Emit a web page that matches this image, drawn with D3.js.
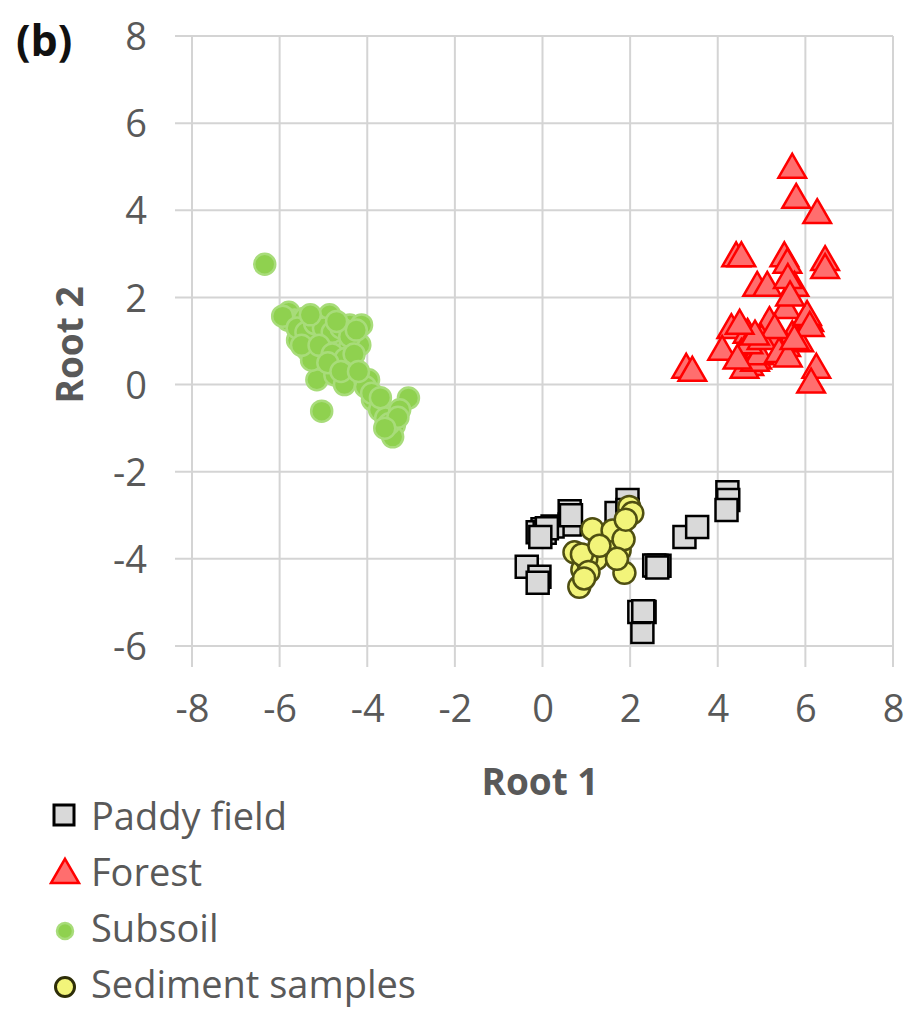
<!DOCTYPE html>
<html>
<head>
<meta charset="utf-8">
<script src="https://cdn.jsdelivr.net/npm/d3@7"></script>
<style>
  html, body { margin: 0; padding: 0; background: #fff; }
  svg { display: block; }
  text { font-family: "Open Sans", "Noto Sans", sans-serif; }
</style>
</head>
<body>
<svg id="chart" width="920" height="1013"></svg>
<script>
// ---- data ----
const xTicks = [-8, -6, -4, -2, 0, 2, 4, 6, 8];
const yTicks = [-6, -4, -2, 0, 2, 4, 6, 8];

const paddyX = [0.62, 0.62, 0.00, -0.11, 0.23, -0.36, -0.07, -0.11, 1.69, 1.94, 1.94, 2.33, 2.28, 2.21, 2.60, 2.67, 3.24, 3.53, 4.22, 4.24, 4.20, 0.05, 0.10, -0.05, 2.55, 2.62, 2.30, 0.65];
const paddyY = [-2.91, -3.21, -3.32, -3.39, -3.26, -4.18, -4.41, -4.55, -2.95, -2.65, -2.88, -5.22, -5.68, -5.22, -4.16, -4.16, -3.50, -3.27, -2.47, -2.65, -2.88, -3.40, -3.30, -3.50, -4.15, -4.20, -5.20, -3.00];

const forestX = [5.70, 5.79, 6.27, 4.42, 4.54, 5.52, 5.59, 6.45, 6.45, 4.90, 5.13, 5.75, 5.56, 6.09, 5.18, 4.31, 4.68, 5.70, 4.10, 4.54, 5.56, 5.86, 4.72, 4.61, 3.28, 3.42, 6.25, 6.13, 5.25, 6.04, 4.90, 4.85, 4.95, 4.70, 5.00, 5.40, 5.60, 5.30, 4.85, 5.60, 5.65, 6.10, 4.50, 4.45, 5.75];
const forestY = [4.93, 4.24, 3.89, 2.90, 2.90, 2.90, 2.75, 2.81, 2.63, 2.22, 2.22, 2.22, 1.71, 1.41, 1.41, 1.25, 1.14, 1.09, 0.75, 0.68, 0.84, 0.95, 0.40, 0.34, 0.34, 0.27, 0.34, 0.00, 1.02, 1.55, 0.55, 0.50, 0.65, 0.90, 1.00, 0.70, 0.60, 1.25, 1.10, 2.40, 2.00, 1.30, 1.35, 0.55, 1.00];

const subsoilX = [-6.34, -5.79, -5.66, -5.81, -5.43, -4.93, -4.86, -4.40, -4.13, -5.59, -5.20, -4.63, -4.29, -5.36, -4.97, -4.63, -4.17, -5.15, -4.74, -4.52, -3.97, -4.04, -5.04, -3.88, -3.72, -3.58, -3.38, -3.42, -3.06, -3.26, -5.93, -4.86, -5.27, -4.40, -5.60, -5.40, -5.20, -5.00, -4.80, -4.60, -4.40, -5.50, -5.10, -4.80, -4.50, -4.30, -5.30, -4.70, -4.25, -4.90, -4.60, -4.20, -3.90, -3.70, -3.50, -3.30, -3.60];
const subsoilY = [2.76, 1.66, 1.48, 1.48, 1.52, 1.52, 1.60, 1.37, 1.37, 1.02, 1.18, 1.14, 1.07, 0.79, 0.91, 0.75, 0.91, 0.11, 0.22, 0.00, 0.11, -0.05, -0.61, -0.35, -0.58, -0.77, -0.93, -1.20, -0.31, -0.58, 1.57, 0.98, 0.56, 0.45, 1.30, 1.20, 1.40, 1.30, 1.20, 1.30, 1.10, 0.90, 0.90, 0.70, 0.60, 0.70, 1.60, 1.45, 1.25, 0.50, 0.30, 0.30, -0.20, -0.30, -0.90, -0.75, -1.00];

const sedimentX = [1.14, 0.73, 1.00, 0.91, 0.84, 1.23, 1.69, 1.76, 1.87, 1.98, 2.05, 1.57, 1.00, 0.90, 1.05, 1.60, 1.85, 1.90, 1.70, 0.95, 1.30];
const sedimentY = [-3.32, -3.85, -4.18, -4.25, -4.64, -4.00, -3.50, -3.80, -4.32, -2.81, -2.95, -3.63, -4.00, -3.90, -4.30, -3.35, -3.55, -3.10, -4.00, -4.45, -3.70];

const seriesNames = ["Paddy field", "Forest", "Subsoil", "Sediment samples"];

// ---- drawing ----
const svg = d3.select("#chart");
const x = d3.scaleLinear().domain([-8, 8]).range([192, 893]);
const y = d3.scaleLinear().domain([-6, 8]).range([646, 36]);

const gridColor = "#d4d4d4";
const labelColor = "#595959";

// gridlines (with small overhang like Excel tick marks)
const grid = svg.append("g");
grid.selectAll("line.v").data(xTicks).join("line")
  .attr("x1", d => x(d)).attr("x2", d => x(d))
  .attr("y1", y(8)).attr("y2", y(-6) + 21)
  .attr("stroke", gridColor).attr("stroke-width", 2);
grid.selectAll("line.h").data(yTicks).join("line")
  .attr("x1", x(-8) - 17).attr("x2", x(8))
  .attr("y1", d => y(d)).attr("y2", d => y(d))
  .attr("stroke", gridColor).attr("stroke-width", 2);

// axes (labels only)
const xAxis = svg.append("g").attr("transform", `translate(0,${y(-6)})`)
  .call(d3.axisBottom(x).tickValues(xTicks).tickSize(0).tickPadding(48).tickFormat(d3.format("d")));
const yAxis = svg.append("g").attr("transform", `translate(${x(-8)},0)`)
  .call(d3.axisLeft(y).tickValues(yTicks).tickSize(0).tickPadding(45).tickFormat(d3.format("d")));
[xAxis, yAxis].forEach(a => {
  a.select(".domain").remove();
  a.selectAll("text").attr("font-size", 38).attr("fill", labelColor)
    .attr("font-family", "'Open Sans', sans-serif");
});
xAxis.selectAll("text").attr("dy", 0).attr("y", 76);
yAxis.selectAll("text").attr("dy", "0.36em");
svg.selectAll(".tick text").text(function() { return this.textContent.replace("\u2212", "-"); });

// axis titles
svg.append("text").attr("x", 540).attr("y", 795).attr("text-anchor", "middle")
  .attr("font-size", 37).attr("font-weight", "bold").attr("fill", labelColor).text("Root 1");
svg.append("text").attr("transform", "translate(83,345) rotate(-90)").attr("text-anchor", "middle")
  .attr("font-size", 37).attr("font-weight", "bold").attr("fill", labelColor).text("Root 2");
svg.append("text").attr("x", 16).attr("y", 56)
  .attr("font-size", 43).attr("font-weight", "bold").attr("fill", "#111").text("(b)");

// series
const sq = d3.symbol().type(d3.symbolSquare).size(22 * 22);
const tri = d3.symbol().type(d3.symbolTriangle).size(330);

const paddy = paddyX.map((v, i) => [v, paddyY[i]]);
const forest = forestX.map((v, i) => [v, forestY[i]]);
const subsoil = subsoilX.map((v, i) => [v, subsoilY[i]]);
const sediment = sedimentX.map((v, i) => [v, sedimentY[i]]);

svg.append("g").selectAll("path").data(paddy).join("path")
  .attr("d", sq).attr("transform", d => `translate(${x(d[0])},${y(d[1])})`)
  .attr("fill", "#d9d9d9").attr("stroke", "#000").attr("stroke-width", 2.5);

svg.append("g").selectAll("path").data(forest).join("path")
  .attr("d", tri).attr("transform", d => `translate(${x(d[0])},${y(d[1])})`)
  .attr("fill", "#ff6e6e").attr("stroke", "#ff0000").attr("stroke-width", 2.5);

svg.append("g").selectAll("circle").data(subsoil).join("circle")
  .attr("cx", d => x(d[0])).attr("cy", d => y(d[1])).attr("r", 10.5)
  .attr("fill", "#8fd14f").attr("stroke", "#a8dc7a").attr("stroke-width", 2.5);

svg.append("g").selectAll("circle").data(sediment).join("circle")
  .attr("cx", d => x(d[0])).attr("cy", d => y(d[1])).attr("r", 11)
  .attr("fill", "#f2f47a").attr("stroke", "#4f4f12").attr("stroke-width", 2.5);

// legend
const legendY = [815, 871, 927, 983];
const lg = svg.append("g");
lg.append("path").attr("d", d3.symbol().type(d3.symbolSquare).size(20 * 20))
  .attr("transform", `translate(64,${legendY[0]})`)
  .attr("fill", "#d9d9d9").attr("stroke", "#000").attr("stroke-width", 3);
lg.append("path").attr("d", d3.symbol().type(d3.symbolTriangle).size(340))
  .attr("transform", `translate(65,${legendY[1] + 4})`)
  .attr("fill", "#ff6e6e").attr("stroke", "#ff0000").attr("stroke-width", 2.5);
lg.append("circle").attr("cx", 65).attr("cy", legendY[2] + 4).attr("r", 8)
  .attr("fill", "#8fd14f").attr("stroke", "#a8dc7a").attr("stroke-width", 2.5);
lg.append("circle").attr("cx", 65).attr("cy", legendY[3] + 4).attr("r", 9.5)
  .attr("fill", "#f2f47a").attr("stroke", "#2e2e08").attr("stroke-width", 3);
lg.selectAll("text").data(seriesNames).join("text")
  .attr("x", 91).attr("y", (d, i) => legendY[i] + 15)
  .attr("font-size", 38).attr("fill", labelColor).text(d => d);
</script>
</body>
</html>
